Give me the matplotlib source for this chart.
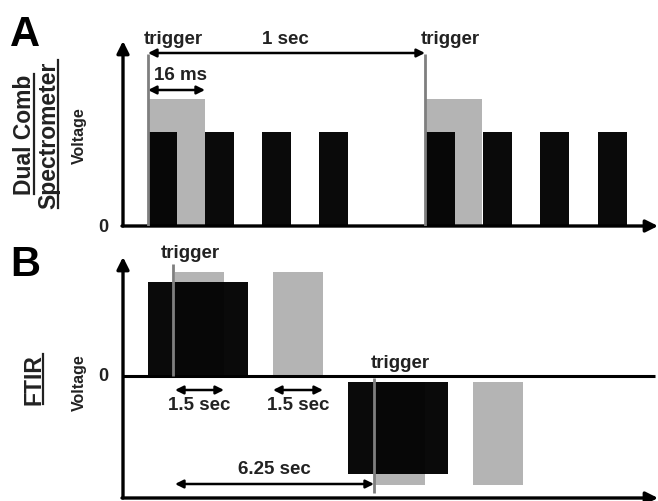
import matplotlib
matplotlib.use("Agg")
import matplotlib.pyplot as plt
from matplotlib.lines import Line2D

plt.rcParams['font.family'] = ['Liberation Sans', 'DejaVu Sans']
plt.rcParams['font.weight'] = 'bold'

W, H = 658, 502
TXT = '#222222'
GRAY = '#b4b4b4'
TRIG = '#7f7f7f'

# Panel A (dual comb): schematic time units, origin at the axes corner
a_black_x = [26, 83, 140, 197, 304, 361, 418, 476]
a_black_w = 29
a_black_h = 94
a_gray_x = [26, 303]
a_gray_w = 57
a_gray_h = 127
a_trigger_x = [26, 303]
a_trigger_top = 172

# Panel B (FTIR): bar left, width, bottom, height
b_black = [(26, 100, 0, 94), (226, 100, -6, -92)]
b_gray = [(53, 49, 0, 104), (151, 50, 0, 104), (253, 50, -6, -103), (351, 50, -6, -103)]
b_trigger = [(51, 0, 112), (252, -2, -117)]
b_span = [(53, 102, -14, '1.5 sec'), (151, 201, -14, '1.5 sec'), (53, 252, -108, '6.25 sec')]

fig = plt.figure(figsize=(W / 100, H / 100), dpi=100)


def px_axes(left, bottom, width, height):
    ax = fig.add_axes([left / W, (H - bottom) / H, width / W, height / H])
    ax.axis('off')
    return ax


def arrow(ax, x0, y0, x1, y1, style='<|-|>', lw=1.8, ms=12):
    ax.annotate('', xy=(x1, y1), xytext=(x0, y0), annotation_clip=False,
                arrowprops=dict(arrowstyle=style, color='black', lw=lw,
                                mutation_scale=ms, shrinkA=0, shrinkB=0))


def side_label(x, y, s, size, underline=False):
    t = fig.text(x / W, 1 - y / H, s, rotation=90, rotation_mode='anchor',
                 ha='center', va='baseline', fontsize=size, color=TXT,
                 fontweight='bold')
    if underline:
        fig.canvas.draw()
        bb = t.get_window_extent()
        lx = (x + 3) / W
        fig.add_artist(Line2D([lx, lx], [bb.y0 / H, bb.y1 / H], color=TXT, lw=1.6))
    return t


# ---------- panel A ----------
axA = px_axes(122, 227, 536, 185)
axA.set_xlim(0, 536)
axA.set_ylim(0, 185)
axA.bar(a_gray_x, a_gray_h, a_gray_w, align='edge', color=GRAY, zorder=2)
axA.bar(a_black_x, a_black_h, a_black_w, align='edge', color='black', alpha=0.96, zorder=3)
axA.vlines(a_trigger_x, 0, a_trigger_top, color=TRIG, lw=2, zorder=4)
arrow(axA, 1, 0, 1, 185, style='-|>', lw=2.4, ms=18)
arrow(axA, 0, 0, 536, 0, style='-|>', lw=2.4, ms=18)
arrow(axA, a_trigger_x[0], 173, a_trigger_x[1], 173)
arrow(axA, a_gray_x[0], 136, a_gray_x[0] + a_gray_w, 136)
for x in a_trigger_x:
    axA.text(x + 25, 187, 'trigger', ha='center', va='center', fontsize=13.5, color=TXT)
axA.text(163, 187, '1 sec', ha='center', va='center', fontsize=13.5, color=TXT)
axA.text(58, 152, '16 ms', ha='center', va='center', fontsize=13.5, color=TXT)
axA.text(-14, 0, '0', ha='right', va='center', fontsize=13, color=TXT)

# ---------- panel B ----------
axB = px_axes(122, 499, 536, 241)
axB.set_xlim(0, 536)
axB.set_ylim(-122, 119)
for x, w, b, h in b_gray:
    axB.bar(x, h, w, bottom=b, align='edge', color=GRAY, zorder=2)
for x, w, b, h in b_black:
    axB.bar(x, h, w, bottom=b, align='edge', color='black', alpha=0.96, zorder=3)
for x, y0, y1 in b_trigger:
    axB.vlines(x, y0, y1, color=TRIG, lw=2, zorder=4)
arrow(axB, 1, -122, 1, 119, style='-|>', lw=2.4, ms=18)
arrow(axB, 0, -122, 536, -122, style='-|>', lw=2.4, ms=18)
axB.plot([0, 533], [0, 0], color='black', lw=2.2, solid_capstyle='butt')
for x0, x1, y, s in b_span:
    arrow(axB, x0, y, x1, y)
    off = -15 if y > -50 else 15
    axB.text((x0 + x1) / 2, y + off, s, ha='center', va='center', fontsize=13.5, color=TXT)
axB.text(68, 124, 'trigger', ha='center', va='center', fontsize=13.5, color=TXT)
axB.text(278, 14, 'trigger', ha='center', va='center', fontsize=13.5, color=TXT)
axB.text(-14, 0, '0', ha='right', va='center', fontsize=13, color=TXT)

# ---------- panel labels ----------
fig.text(25 / W, 1 - 35 / H, 'A', ha='center', va='center', fontsize=30, color='black')
fig.text(25 / W, 1 - 265 / H, 'B', ha='center', va='center', fontsize=30, color='black')
side_label(31, 135, 'Dual Comb', 16.5, underline=True)
side_label(55, 135, 'Spectrometer', 16.5, underline=True)
side_label(84, 136, 'Voltage', 11.5)
side_label(40, 380, 'FTIR', 16.5, underline=True)
side_label(84, 383, 'Voltage', 11.5)

fig.savefig('out.png', dpi=100)
